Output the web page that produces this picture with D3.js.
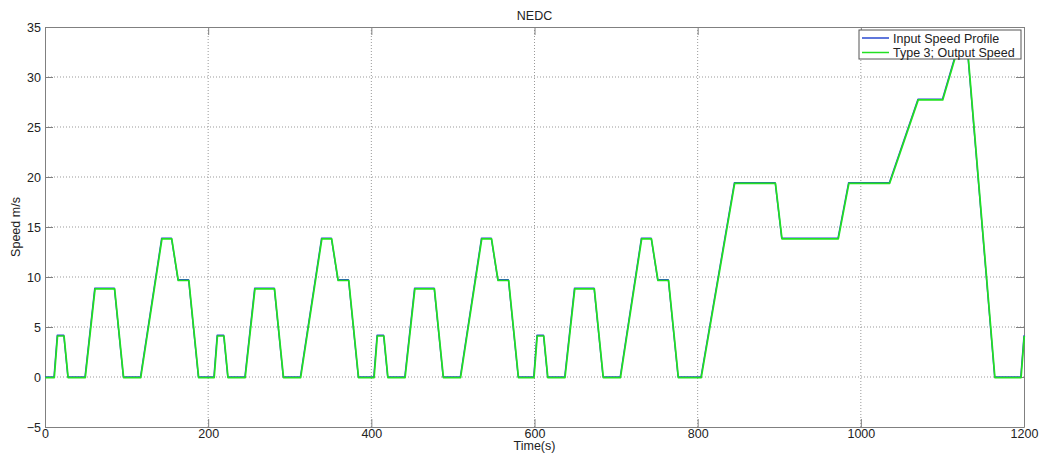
<!DOCTYPE html>
<html>
<head>
<meta charset="utf-8">
<script src="https://cdn.jsdelivr.net/npm/d3@7"></script>
<style>
    body { margin: 0; background: #fff; }
    svg text { font-family: "Liberation Sans", Arial, sans-serif; fill: #222; }
</style>
</head>
<body>
<svg id="chart" width="1040" height="455"></svg>
<script>
// NEDC breakpoints: 4 x ECE-15 urban cycles, then EUDC, then start of next ECE
const timeS = [
    0, 11, 15, 23, 28, 49, 61, 85, 96, 117, 143, 155, 163, 176, 188, 195,
    196, 207, 211, 219, 224, 245, 257, 281, 292, 313, 339, 351, 359, 372, 384, 391,
    392, 403, 407, 415, 420, 441, 453, 477, 488, 509, 535, 547, 555, 568, 580, 587,
    588, 599, 603, 611, 616, 637, 649, 673, 684, 705, 731, 743, 751, 764, 776, 783,
    784, 804, 845, 895, 903, 972, 985, 1035, 1070, 1100, 1120, 1130, 1164, 1184,
    1185, 1196, 1200
];
const inputSpeed = [
    0, 0, 4.17, 4.17, 0, 0, 8.89, 8.89, 0, 0, 13.89, 13.89, 9.72, 9.72, 0, 0,
    0, 0, 4.17, 4.17, 0, 0, 8.89, 8.89, 0, 0, 13.89, 13.89, 9.72, 9.72, 0, 0,
    0, 0, 4.17, 4.17, 0, 0, 8.89, 8.89, 0, 0, 13.89, 13.89, 9.72, 9.72, 0, 0,
    0, 0, 4.17, 4.17, 0, 0, 8.89, 8.89, 0, 0, 13.89, 13.89, 9.72, 9.72, 0, 0,
    0, 0, 19.44, 19.44, 13.89, 13.89, 19.44, 19.44, 27.78, 27.78, 33.33, 33.33, 0, 0,
    0, 0, 4.17
];
// output follows the input profile (visually identical in the reference)
const outputSpeed = inputSpeed.slice();

const xTicks = [0, 200, 400, 600, 800, 1000, 1200];
const yTicks = [-5, 0, 5, 10, 15, 20, 25, 30, 35];
const seriesNames = ['Input Speed Profile', 'Type 3; Output Speed'];

const width = 1040, height = 455;
const margin = { top: 27, right: 16, bottom: 28, left: 45 };
const plotW = width - margin.left - margin.right;
const plotH = height - margin.top - margin.bottom;

const svg = d3.select('#chart');

const x = d3.scaleLinear().domain([0, 1200]).range([0, plotW]);
const y = d3.scaleLinear().domain([-5, 35]).range([plotH, 0]);

const g = svg.append('g').attr('transform', 'translate(' + margin.left + ',' + margin.top + ')');

// Grid
g.append('g').selectAll('line')
    .data(xTicks.slice(1, -1))
    .join('line')
    .attr('x1', d => x(d)).attr('x2', d => x(d))
    .attr('y1', 0).attr('y2', plotH)
    .attr('stroke', '#999').attr('stroke-dasharray', '1,2');

g.append('g').selectAll('line')
    .data(yTicks.slice(1, -1))
    .join('line')
    .attr('x1', 0).attr('x2', plotW)
    .attr('y1', d => y(d)).attr('y2', d => y(d))
    .attr('stroke', '#999').attr('stroke-dasharray', '1,2');

// Axes (inward ticks, MATLAB style)
const tickLen = 8;
const xAxis = g.append('g').attr('transform', 'translate(0,' + plotH + ')')
    .call(d3.axisBottom(x).tickValues(xTicks).tickFormat(d3.format('d'))
        .tickSizeInner(-tickLen).tickSizeOuter(0).tickPadding(2));
const xTop = g.append('g')
    .call(d3.axisTop(x).tickValues(xTicks).tickSizeInner(-tickLen).tickSizeOuter(0).tickFormat(''));
const yAxis = g.append('g')
    .call(d3.axisLeft(y).tickValues(yTicks).tickSizeInner(-tickLen).tickSizeOuter(0).tickPadding(4));
const yRight = g.append('g').attr('transform', 'translate(' + plotW + ',0)')
    .call(d3.axisRight(y).tickValues(yTicks).tickSizeInner(-tickLen).tickSizeOuter(0).tickFormat(''));

[xAxis, xTop, yAxis, yRight].forEach(a => {
    a.select('.domain').attr('stroke', '#808080');
    a.selectAll('.tick line').attr('stroke', '#808080');
    a.selectAll('.tick text').attr('font-size', '12.5px').attr('fill', '#222');
});

// Lines
const line = d3.line()
    .x(d => x(d[0]))
    .y(d => y(d[1]));

g.append('path')
    .datum(timeS.map((t, i) => [t, inputSpeed[i]]))
    .attr('d', line)
    .attr('fill', 'none')
    .attr('stroke', '#2a4ad0')
    .attr('stroke-width', 1.4)
    .attr('stroke-linejoin', 'round');

g.append('path')
    .datum(timeS.map((t, i) => [t, outputSpeed[i]]))
    .attr('d', line)
    .attr('transform', 'translate(0.3,0.7)')
    .attr('fill', 'none')
    .attr('stroke', '#22e022')
    .attr('stroke-width', 1.7)
    .attr('stroke-linejoin', 'round');

// Legend
const legend = svg.append('g').attr('transform', 'translate(859,30)');
legend.append('rect')
    .attr('width', 162).attr('height', 29)
    .attr('fill', '#fff').attr('stroke', '#555');
const legendColors = ['#2a4ad0', '#22e022'];
seriesNames.forEach((name, i) => {
    const yy = 8 + i * 14.5;
    legend.append('line')
        .attr('x1', 3).attr('x2', 30).attr('y1', yy).attr('y2', yy)
        .attr('stroke', legendColors[i]).attr('stroke-width', 1.5);
    legend.append('text')
        .attr('x', 34).attr('y', yy + 4.5)
        .attr('font-size', '12.5px')
        .text(name);
});

// Title and labels
svg.append('text')
    .attr('x', margin.left + plotW / 2).attr('y', 20)
    .attr('text-anchor', 'middle').attr('font-size', '12.5px')
    .text('NEDC');

svg.append('text')
    .attr('x', margin.left + plotW / 2).attr('y', 450)
    .attr('text-anchor', 'middle').attr('font-size', '12.5px')
    .text('Time(s)');

svg.append('text')
    .attr('transform', 'translate(20,' + (margin.top + plotH / 2) + ') rotate(-90)')
    .attr('text-anchor', 'middle').attr('font-size', '12.5px')
    .text('Speed m/s');
</script>
</body>
</html>
